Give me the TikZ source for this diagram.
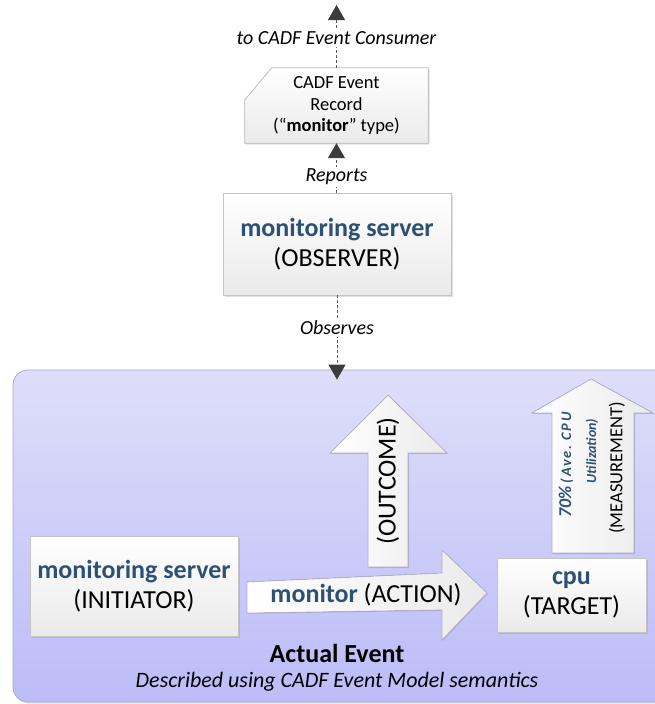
\documentclass[tikz,border=0pt]{standalone}
\usepackage{fontspec}
\setmainfont{Carlito}
\usetikzlibrary{arrows.meta,shadows}
\definecolor{txtblue}{RGB}{44,80,118}
\definecolor{boxline}{RGB}{196,196,196}
\definecolor{boxlow}{RGB}{234,234,234}
\definecolor{bgtop}{RGB}{222,222,250}
\definecolor{bgbot}{RGB}{188,188,248}
\definecolor{bgline}{RGB}{168,168,210}
\definecolor{arrline}{RGB}{176,176,205}
\definecolor{dashcol}{RGB}{90,90,90}
\definecolor{tipcol}{RGB}{60,60,60}
\begin{document}
\begin{tikzpicture}[x=1pt,y=-1pt,
  big/.style={font=\fontsize{26}{30}\selectfont, align=center},
  boxnode/.style={big, draw=boxline, line width=0.8pt, top color=white, bottom color=boxlow,
    drop shadow={shadow xshift=1.5pt, shadow yshift=-1.5pt, opacity=0.25}},
  lbl/.style={font=\fontsize{20}{23}\selectfont\itshape, fill=white, inner sep=2pt},
  flow/.style={draw=dashcol, line width=0.8pt, dash pattern=on 3pt off 2pt,
    -{Triangle[width=17pt,length=15pt,fill=tipcol,color=tipcol]}},
  fatarrow/.style={draw=arrline, line width=0.7pt, left color=white, right color=boxlow,
    drop shadow={shadow xshift=1pt, shadow yshift=-1pt, opacity=0.2}},
  vtext/.style={rotate=90, inner sep=0pt}]
\useasboundingbox (0,0) rectangle (654,704);

% background panel of the actual event
\node[draw=bgline, line width=0.8pt, rounded corners=15pt, top color=bgtop, bottom color=bgbot,
  minimum width=660pt, minimum height=332pt, inner sep=0pt,
  drop shadow={shadow xshift=1pt, shadow yshift=-1.5pt, opacity=0.25}] (evt) at (343,536) {};

% event record with cut corner
\node[minimum width=183pt, minimum height=75pt, inner sep=0pt] (rec) at (336.5,105.5) {};
\filldraw[draw=boxline, line width=0.8pt, top color=white, bottom color=boxlow,
  drop shadow={shadow xshift=1.5pt, shadow yshift=-1.5pt, opacity=0.25}]
  ([yshift=-32pt]rec.north west) -- ([xshift=27pt]rec.north west) -- (rec.north east)
  -- (rec.south east) -- (rec.south west) -- cycle;
\node[font=\fontsize{18.5}{21.5}\selectfont, align=center] (rectext) at (rec.center)
  {CADF Event\\Record\\(“\textbf{monitor}” type)};

% observer
\node[boxnode, minimum width=228pt, minimum height=102pt, inner sep=0pt] (obs) at (337,244)
  {\textbf{\textcolor{txtblue}{monitoring server}}\\(OBSERVER)};

% consumer end point
\coordinate (cons) at (336.5,5);

% dashed flows
\draw[flow] (rec.north) -- (cons);
\node[lbl] (lcons) at (336.5,38) {to CADF Event Consumer};
\draw[flow] (obs.north -| rec.south) -- (rec.south);
\node[lbl] (lrep) at (336.5,177) {Reports};
\draw[flow] (obs.south) -- ([yshift=-10pt]obs.south |- evt.north);
\node[lbl] (lobs) at (337,328) {Observes};

% initiator and target
\node[boxnode, minimum width=208pt, minimum height=100pt, inner sep=0pt] (ini) at (134,586)
  {\textbf{\textcolor{txtblue}{monitoring server}}\\(INITIATOR)};
\node[boxnode, minimum width=149pt, minimum height=74pt, inner sep=0pt] (tgt) at (571.5,595)
  {\textbf{\textcolor{txtblue}{cpu}}\\(TARGET)};

% action arrow
\filldraw[fatarrow] (247,582) -- (442,573) -- (442,550) -- (487,593) -- (442,640)
  -- (442,610) -- (247,613) -- cycle;
\node[big] (act) at (366,595) {\textbf{\textcolor{txtblue}{monitor}} (ACTION)};

% outcome arrow
\filldraw[fatarrow] (368,567) -- (368,453) -- (330,453) -- (388,395) -- (447,453)
  -- (408,453) -- (408,567) -- cycle;
\node[big, rotate=90] (out) at (388,481) {(OUTCOME)};

% measurement arrow
\filldraw[fatarrow] (552,553) -- (552,413) -- (532,413) -- (591,379) -- (653,413)
  -- (634,413) -- (634,553) -- cycle;
\node[vtext, font=\fontsize{14.5}{16}\selectfont\bfseries\itshape, text=txtblue] (m1) at (566,465)
  {{\fontsize{18}{20}\selectfont 70\%} {\addfontfeature{LetterSpace=12}(Ave.\hspace{5pt}CPU}};
\node[vtext, font=\fontsize{14}{16}\selectfont\bfseries\itshape, text=txtblue] (m2) at (592,451)
  {Utilization)};
\node[vtext, font=\fontsize{18.5}{20}\selectfont] (m3) at (617,468) {(MEASUREMENT)};

% captions
\node[font=\fontsize{26}{28}\selectfont\bfseries] (cap) at (337,653) {Actual Event};
\node[font=\fontsize{22}{25}\selectfont\itshape] (sub) at (337,682)
  {Described using CADF Event Model semantics};
\end{tikzpicture}
\end{document}
